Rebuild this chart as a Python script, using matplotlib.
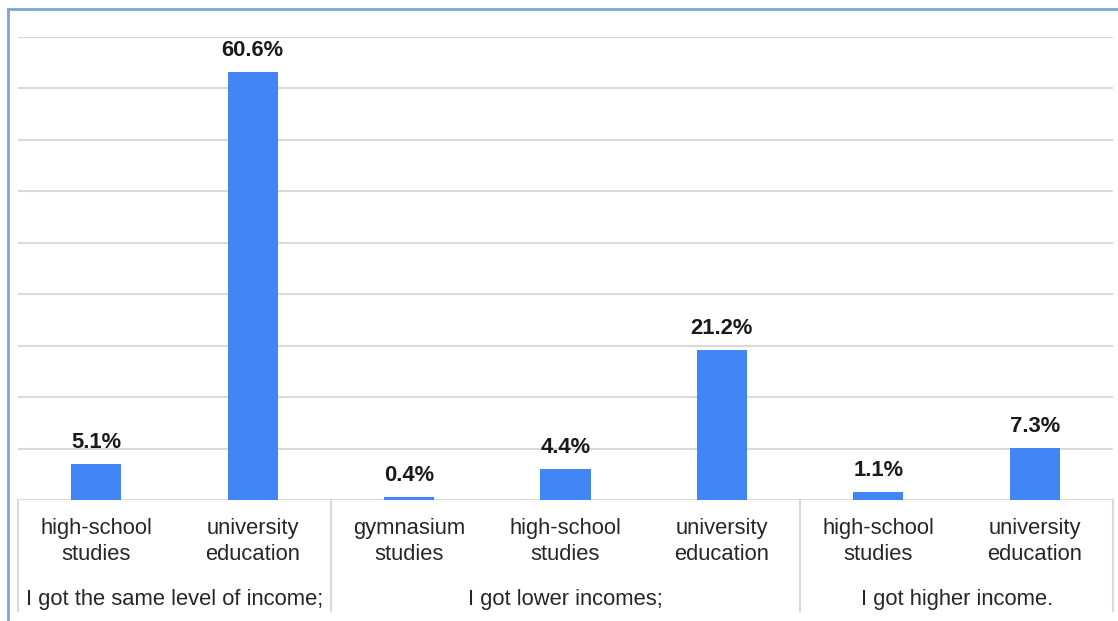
import numpy as np
import matplotlib.pyplot as plt
from matplotlib.lines import Line2D

plt.rcParams['font.family'] = ['Liberation Sans', 'DejaVu Sans']

# Responses grouped by income change, split by education level
groups = ['I got the same level of income;', 'I got lower incomes;', 'I got higher income.']
group_sizes = [2, 3, 2]
categories = ['high-school\nstudies', 'university\neducation',
              'gymnasium\nstudies', 'high-school\nstudies', 'university\neducation',
              'high-school\nstudies', 'university\neducation']
values = [5.1, 60.6, 0.4, 4.4, 21.2, 1.1, 7.3]

W, H = 1118, 621
fig = plt.figure(figsize=(W / 100, H / 100), dpi=100)
ax = fig.add_axes([18 / W, (H - 500) / H, (1113 - 18) / W, 463 / H])

x = np.arange(len(values))
ax.bar(x, values, width=0.32, color='#4285F4', zorder=3)
ax.set_xlim(-0.5, len(values) - 0.5)
ymax = 65.5
ax.set_ylim(0, ymax)

# horizontal gridlines
for g in np.linspace(0, ymax, 10):
    ax.axhline(g, color='#d9d9d9', lw=1.5, zorder=1)

for s in ax.spines.values():
    s.set_visible(False)
ax.set_xticks([])
ax.set_yticks([])

# value labels
for xi, v in zip(x, values):
    ax.annotate(f'{v:.1f}%', (xi, v), xytext=(0, 8), textcoords='offset points',
                ha='center', va='bottom', fontsize=15.8, fontweight='bold', color='#1a1a1a')

# two-level category axis
tr = ax.get_xaxis_transform()
for xi, lab in zip(x, categories):
    ax.text(xi, -0.0897, lab, transform=tr, ha='center', va='center',
            fontsize=15.8, color='#262626', linespacing=1.35, clip_on=False)

edges = np.concatenate([[0], np.cumsum(group_sizes)]) - 0.5
for e in edges:
    ax.plot([e, e], [0, -0.24], transform=tr, color='#d9d9d9', lw=1.5, clip_on=False)
for a, b, g in zip(edges[:-1], edges[1:], groups):
    ax.text((a + b) / 2, -0.215, g, transform=tr, ha='center', va='center',
            fontsize=15.8, color='#262626', clip_on=False)

# outer frame
fig.add_artist(Line2D([8 / W, 8 / W], [0, 1 - 9 / H], transform=fig.transFigure,
                      color='#7aa6d6', lw=2))
fig.add_artist(Line2D([8 / W, 1], [1 - 9 / H, 1 - 9 / H], transform=fig.transFigure,
                      color='#7aa6d6', lw=2))

fig.savefig('out.png', dpi=100)
